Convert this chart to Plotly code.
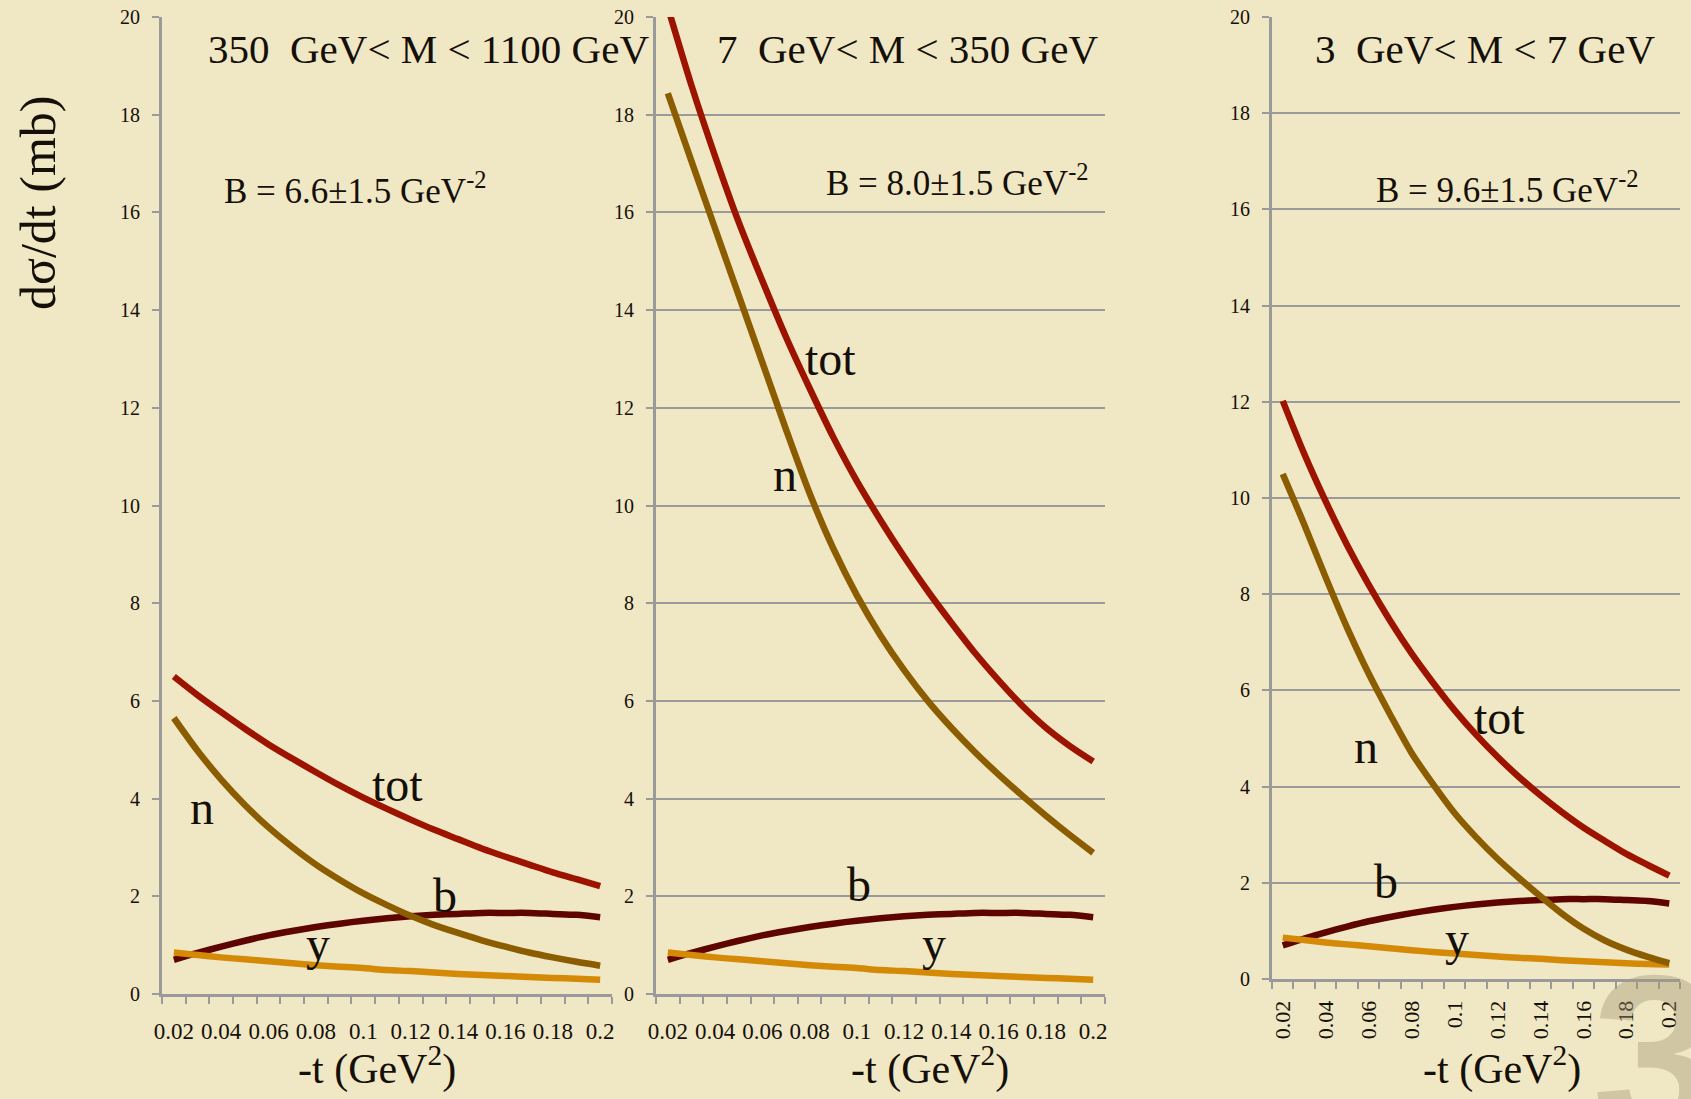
import plotly.graph_objects as go

# ---------------- data ----------------
t_vals = [0.02, 0.03, 0.04, 0.05, 0.06, 0.07, 0.08, 0.09, 0.10, 0.11,
          0.12, 0.13, 0.14, 0.15, 0.16, 0.17, 0.18, 0.19, 0.20]
x_tick_vals = [0.02, 0.04, 0.06, 0.08, 0.10, 0.12, 0.14, 0.16, 0.18, 0.20]
x_tick_text = ["0.02", "0.04", "0.06", "0.08", "0.1", "0.12", "0.14", "0.16", "0.18", "0.2"]
y_tick_vals = [0, 2, 4, 6, 8, 10, 12, 14, 16, 18, 20]

panel_titles = ["350\u00a0 GeV< M < 1100 GeV", "7\u00a0 GeV< M < 350 GeV", "3\u00a0 GeV< M < 7 GeV"]
slope_texts = ["B = 6.6\u00b11.5 GeV<sup>-2</sup>", "B = 8.0\u00b11.5 GeV<sup>-2</sup>",
               "B = 9.6\u00b11.5 GeV<sup>-2</sup>"]

# 350 GeV < M < 1100 GeV
tot_hi = [6.50, 6.12, 5.77, 5.43, 5.11, 4.82, 4.54, 4.27, 4.02, 3.79,
          3.57, 3.36, 3.17, 2.98, 2.81, 2.65, 2.49, 2.35, 2.21]
n_hi = [5.65, 4.98, 4.39, 3.87, 3.41, 3.01, 2.65, 2.34, 2.06, 1.82,
        1.60, 1.41, 1.25, 1.10, 0.97, 0.85, 0.75, 0.66, 0.58]
b_hi = [0.70, 0.84, 0.97, 1.09, 1.20, 1.29, 1.37, 1.44, 1.50, 1.55,
        1.59, 1.62, 1.64, 1.66, 1.66, 1.66, 1.64, 1.62, 1.57]
y_hi = [0.85, 0.80, 0.75, 0.71, 0.67, 0.63, 0.59, 0.56, 0.53, 0.49,
        0.47, 0.44, 0.41, 0.39, 0.37, 0.35, 0.33, 0.31, 0.29]

# 7 GeV < M < 350 GeV
tot_mid = [20.2, 18.6, 17.15, 15.8, 14.6, 13.45, 12.4, 11.4, 10.5, 9.7,
           8.95, 8.25, 7.6, 6.98, 6.42, 5.9, 5.45, 5.08, 4.76]
n_mid = [18.44, 17.05, 15.67, 14.30, 12.93, 11.56, 10.25, 9.12, 8.16, 7.34,
         6.63, 6.00, 5.45, 4.95, 4.49, 4.06, 3.65, 3.26, 2.89]
b_mid = [0.70, 0.84, 0.97, 1.09, 1.20, 1.29, 1.37, 1.44, 1.50, 1.55,
         1.59, 1.62, 1.64, 1.66, 1.66, 1.66, 1.64, 1.62, 1.57]
y_mid = [0.85, 0.80, 0.75, 0.71, 0.67, 0.63, 0.59, 0.56, 0.53, 0.49,
         0.47, 0.44, 0.41, 0.39, 0.37, 0.35, 0.33, 0.31, 0.29]

# 3 GeV < M < 7 GeV
tot_lo = [12.02, 10.92, 9.93, 9.02, 8.20, 7.45, 6.77, 6.16, 5.59, 5.08,
          4.62, 4.20, 3.82, 3.47, 3.15, 2.87, 2.60, 2.37, 2.15]
n_lo = [10.5, 9.45, 8.35, 7.3, 6.35, 5.5, 4.7, 4.05, 3.45, 2.95,
        2.5, 2.1, 1.72, 1.36, 1.05, 0.80, 0.61, 0.46, 0.33]
b_lo = [0.70, 0.84, 0.97, 1.09, 1.20, 1.29, 1.37, 1.44, 1.50, 1.55,
        1.59, 1.62, 1.64, 1.66, 1.66, 1.66, 1.64, 1.62, 1.57]
y_lo = [0.86, 0.81, 0.76, 0.72, 0.68, 0.64, 0.60, 0.56, 0.53, 0.50,
        0.47, 0.44, 0.42, 0.39, 0.37, 0.35, 0.33, 0.31, 0.30]

# ---------------- styling ----------------
W, H = 1691, 1099
BG = "#f0e7c5"
GRID = "#9a9a9a"
FONT = "Liberation Serif"
TXT = "#141008"
COL = {"tot": "#9c1400", "n": "#8b5d00", "b": "#5e0500", "y": "#d48a06"}


def px(x, y):
    return x / W, 1 - y / H


panels = [
    dict(xd=(162, 612), yd=(17, 994), grid=False, angle=0,
         series={"b": b_hi, "y": y_hi, "n": n_hi, "tot": tot_hi},
         title=(428, 49), slope=(355, 189), xtitle=(377, 1066),
         labels={"tot": (397, 784), "n": (202, 807), "b": (445, 895), "y": (318, 943)}),
    dict(xd=(656, 1105), yd=(17, 994), grid=True, angle=0,
         series={"b": b_mid, "y": y_mid, "n": n_mid, "tot": tot_mid},
         title=(907, 49), slope=(957, 180), xtitle=(930, 1066),
         labels={"tot": (830, 358), "n": (785, 474), "b": (859, 884), "y": (934, 943)}),
    dict(xd=(1272, 1680), yd=(17, 979), grid=True, angle=-90,
         series={"b": b_lo, "y": y_lo, "n": n_lo, "tot": tot_lo},
         title=(1485, 49), slope=(1507, 187), xtitle=(1502, 1066),
         labels={"tot": (1499, 717), "n": (1366, 746), "b": (1386, 881), "y": (1457, 938)}),
]

bounds = [round(v - 0.005, 3) for v in t_vals] + [round(t_vals[-1] + 0.005, 3)]

fig = go.Figure()
annotations = []
layout = {}

for i, p in enumerate(panels):
    idx = "" if i == 0 else str(i + 1)
    xa, ya = "x" + idx, "y" + idx
    for name, vals in p["series"].items():
        fig.add_trace(go.Scatter(x=t_vals, y=vals, mode="lines", xaxis=xa, yaxis=ya,
                                 line=dict(color=COL[name], width=6.5, shape="spline", smoothing=0.8),
                                 showlegend=False, hoverinfo="skip"))
    layout["xaxis" + idx] = dict(
        domain=[p["xd"][0] / W, p["xd"][1] / W], anchor=ya, automargin=False,
        range=[bounds[0], bounds[-1]], showgrid=False, zeroline=False,
        showline=True, linecolor=GRID, linewidth=3,
        tickmode="array", tickvals=x_tick_vals, ticktext=x_tick_text,
        ticks="outside", ticklen=14 if p["angle"] == 0 else 10, tickcolor="rgba(0,0,0,0)",
        tickangle=p["angle"],
        tickfont=dict(family=FONT, size=23 if p["angle"] == 0 else 22, color=TXT),
        minor=dict(tickmode="array", tickvals=bounds, ticks="outside", ticklen=7,
                   tickwidth=2, tickcolor=GRID, showgrid=False),
    )
    layout["yaxis" + idx] = dict(
        domain=[1 - p["yd"][1] / H, 1 - p["yd"][0] / H], anchor=xa, automargin=False,
        range=[0, 20], tickmode="array", tickvals=y_tick_vals,
        showgrid=p["grid"], gridcolor=GRID, gridwidth=2, zeroline=False,
        showline=True, linecolor=GRID, linewidth=3,
        ticks="outside", ticklen=7, tickwidth=2, tickcolor=GRID,
        ticklabelstandoff=8,
        tickfont=dict(family=FONT, size=20, color=TXT),
    )
    tx, ty = px(*p["title"])
    annotations.append(dict(text=panel_titles[i], x=tx, y=ty, xref="paper", yref="paper",
                            xanchor="center", yanchor="middle", showarrow=False,
                            font=dict(family=FONT, size=41, color=TXT)))
    sx, sy = px(*p["slope"])
    annotations.append(dict(text=slope_texts[i], x=sx, y=sy, xref="paper", yref="paper",
                            xanchor="center", yanchor="middle", showarrow=False,
                            font=dict(family=FONT, size=35, color=TXT)))
    ax_, ay_ = px(*p["xtitle"])
    annotations.append(dict(text="-t (GeV<sup>2</sup>)", x=ax_, y=ay_, xref="paper", yref="paper",
                            xanchor="center", yanchor="middle", showarrow=False,
                            font=dict(family=FONT, size=42, color=TXT)))
    for name, (lx, ly) in p["labels"].items():
        lxp, lyp = px(lx, ly)
        annotations.append(dict(text=name, x=lxp, y=lyp, xref="paper", yref="paper",
                                xanchor="center", yanchor="middle", showarrow=False,
                                font=dict(family=FONT, size=48, color=TXT)))

# y-axis title
yx, yy = px(38, 203)
annotations.append(dict(text="d\u03c3/dt (mb)", x=yx, y=yy, xref="paper", yref="paper",
                        xanchor="center", yanchor="middle", textangle=-90, showarrow=False,
                        font=dict(family=FONT, size=50, color=TXT)))
# slide-number watermark
wx, wy = px(1590, 925)
annotations.append(dict(text="<b>3</b>", x=wx, y=wy, xref="paper", yref="paper",
                        xanchor="left", yanchor="top", showarrow=False,
                        font=dict(family="Liberation Sans", size=230, color="rgba(165,152,118,0.42)")))

fig.update_layout(
    width=W, height=H, autosize=False, margin=dict(l=0, r=0, t=0, b=0, pad=0, autoexpand=False),
    paper_bgcolor=BG, plot_bgcolor="rgba(0,0,0,0)",
    annotations=annotations, **layout,
)

post = (
    "document.documentElement.style.margin='0';"
    "document.body.style.margin='0';"
    "document.documentElement.style.overflow='hidden';"
    "document.body.style.overflow='hidden';"
    "var gd=document.getElementById('{plot_id}');"
    "Plotly.relayout(gd,{width:window.innerWidth,height:window.innerHeight});"
)

fig.write_html("out.html", config={"displayModeBar": False}, post_script=post)
